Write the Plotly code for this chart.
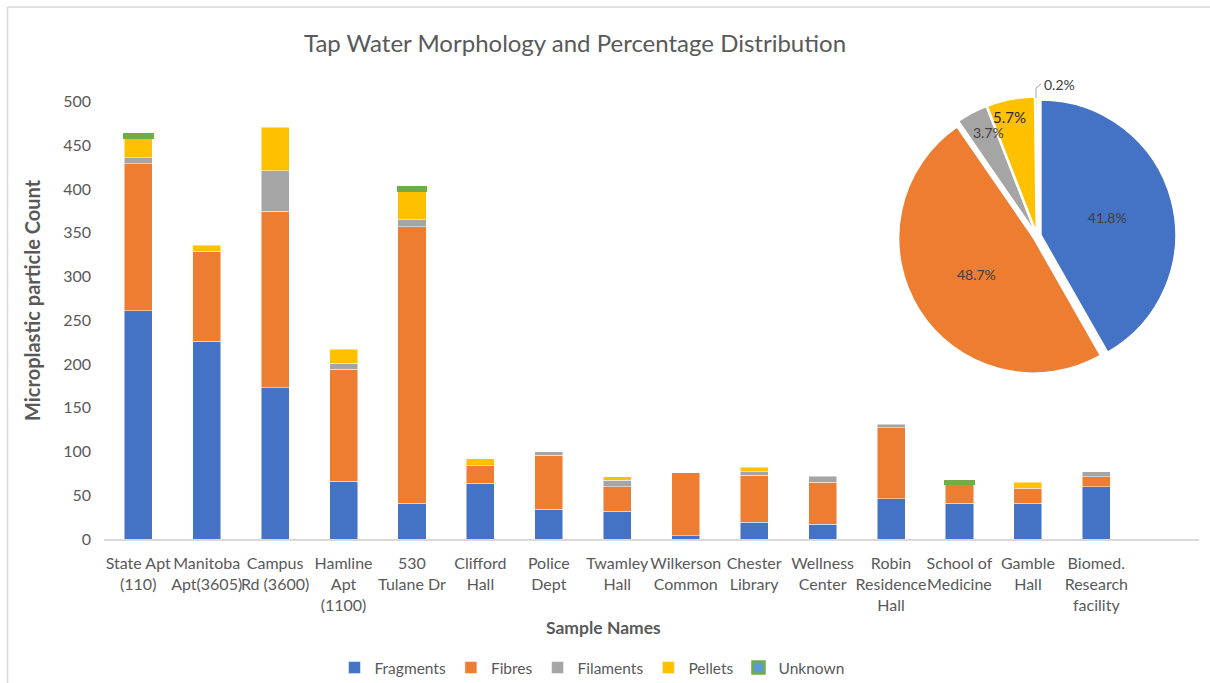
import plotly.graph_objects as go

categories = ["State Apt<br>(110)", "Manitoba<br>Apt(3605)", "Campus<br>Rd (3600)", "Hamline<br>Apt<br>(1100)",
              "530<br>Tulane Dr", "Clifford<br>Hall", "Police<br>Dept", "Twamley<br>Hall", "Wilkerson<br>Common",
              "Chester<br>Library", "Wellness<br>Center", "Robin<br>Residence<br>Hall", "School of<br>Medicine",
              "Gamble<br>Hall", "Biomed.<br>Research<br>facility"]

fragments = [261, 226, 173, 66, 41, 64, 34, 32, 4, 19, 17, 46, 41, 41, 60]
fibres    = [168, 103, 202, 128, 316, 20, 62, 28, 72, 54, 48, 81, 22, 17, 11]
filaments = [7, 0, 46, 7, 8, 0, 4, 7, 0, 4, 7, 4, 0, 0, 6]
pellets   = [23, 7, 50, 16, 33, 8, 0, 4, 0, 5, 0, 0, 0, 7, 0]
unknown   = [4, 0, 0, 0, 4, 0, 0, 0, 0, 0, 0, 0, 3, 0, 0]

series_names = ["Fragments", "Fibres", "Filaments", "Pellets", "Unknown"]
pie_percent = [41.8, 48.7, 3.7, 5.7, 0.2]

colors = ["#4472C4", "#ED7D31", "#A5A5A5", "#FFC000", "#70AD47"]
FONT = "Lato, 'Open Sans', sans-serif"
GREY = "#595959"

W, H = 1210, 683
L, R, T, B = 104, 11, 90, 144
PW, PH = W - L - R, H - T - B


def px_x(x):
    return (x - L) / PW


def px_y(y):
    return (H - B - y) / PH


fig = go.Figure()
for name, vals, col in zip(series_names, [fragments, fibres, filaments, pellets, unknown], colors):
    if name == "Unknown":
        marker = dict(color="#5B9BD5", line=dict(color="#70AD47", width=[2.5 if v > 0 else 0 for v in vals]))
    else:
        marker = dict(color=col, line=dict(color="rgba(255,255,255,0.6)", width=[0.8 if v > 0 else 0 for v in vals]))
    fig.add_trace(go.Bar(name=name, x=categories, y=vals, marker=marker))

pie_text = [f"{p}%" for p in pie_percent]
cx, cy, hr = 1037, 236, 139
fig.add_trace(go.Pie(
    labels=series_names, values=pie_percent, sort=False, direction="clockwise", rotation=0,
    marker=dict(colors=colors, line=dict(color="white", width=1.5)),
    pull=[0.03, 0.03, 0.03, 0.03, 0.03],
    text=[pie_text[0], pie_text[1], "", "", ""],
    textinfo="text",
    textposition=["inside", "inside", "none", "none", "none"],
    insidetextorientation="horizontal",
    textfont=dict(family=FONT, size=14, color="#404040"),
    showlegend=False,
    domain=dict(x=[px_x(cx - hr), px_x(cx + hr)], y=[px_y(cy + hr), px_y(cy - hr)]),
))

fig.update_layout(
    barmode="stack",
    bargap=0.59,
    width=W, height=H,
    margin=dict(l=L, r=R, t=T, b=B),
    paper_bgcolor="white", plot_bgcolor="white",
    font=dict(family=FONT, color=GREY),
    title=dict(text="Tap Water Morphology and Percentage Distribution",
               x=575 / W, xanchor="center", y=1 - 44 / H, yanchor="middle",
               font=dict(family=FONT, size=24, color=GREY)),
    xaxis=dict(domain=[0, 1], range=[-0.5, len(categories) + 0.5], showgrid=False, showline=True,
               linecolor="#D9D9D9", linewidth=2, ticks="", ticklabelstandoff=9,
               tickfont=dict(family=FONT, size=16, color=GREY), tickangle=0, automargin=False),
    yaxis=dict(domain=[0, (539 - 101.7) / PH], range=[0, 500], dtick=50, showgrid=False, zeroline=False,
               showline=False, ticks="", ticklabelstandoff=12,
               tickfont=dict(family=FONT, size=16, color=GREY), automargin=False),
    legend=dict(orientation="h", x=px_x(592), xanchor="center", yref="container", y=(H - 668) / H,
                yanchor="middle", font=dict(family=FONT, size=15.5, color=GREY), traceorder="normal"),
    annotations=[
        dict(text="<b>Sample Names</b>", xref="paper", yref="paper",
             x=px_x(603), y=px_y(627), xanchor="center", yanchor="middle",
             showarrow=False, font=dict(family=FONT, size=17.5, color=GREY)),
        dict(text="<b>Microplastic particle Count</b>", xref="paper", yref="paper", textangle=-90,
             x=px_x(32), y=px_y(300), xanchor="center", yanchor="middle",
             showarrow=False, font=dict(family=FONT, size=20, color=GREY)),
        dict(text=pie_text[2], xref="paper", yref="paper",
             x=px_x(988), y=px_y(132), xanchor="center", yanchor="middle",
             showarrow=False, font=dict(family=FONT, size=14, color="#404040")),
        dict(text=pie_text[3], xref="paper", yref="paper",
             x=px_x(1009), y=px_y(117), xanchor="center", yanchor="middle",
             showarrow=False, font=dict(family=FONT, size=15, color="#262626")),
        dict(text=pie_text[4], xref="paper", yref="paper",
             x=px_x(1042), y=px_y(84), xanchor="left", yanchor="middle",
             showarrow=False, font=dict(family=FONT, size=14, color="#404040")),
    ],
    shapes=[
        dict(type="path", xref="paper", yref="paper",
             path=f"M {px_x(1036)} {px_y(98)} L {px_x(1036)} {px_y(88)} L {px_x(1041)} {px_y(84)}",
             line=dict(color="#A6A6A6", width=1)),
        dict(type="line", xref="paper", yref="paper", x0=px_x(7.5), x1=px_x(W), y0=px_y(7), y1=px_y(7),
             line=dict(color="#D9D9D9", width=1.5)),
        dict(type="line", xref="paper", yref="paper", x0=px_x(7.5), x1=px_x(7.5), y0=px_y(7), y1=px_y(H),
             line=dict(color="#D9D9D9", width=1.5)),
    ],
)

fig.write_html("out.html", post_script="document.body.style.margin='0';",
               config=dict(displayModeBar=False))
